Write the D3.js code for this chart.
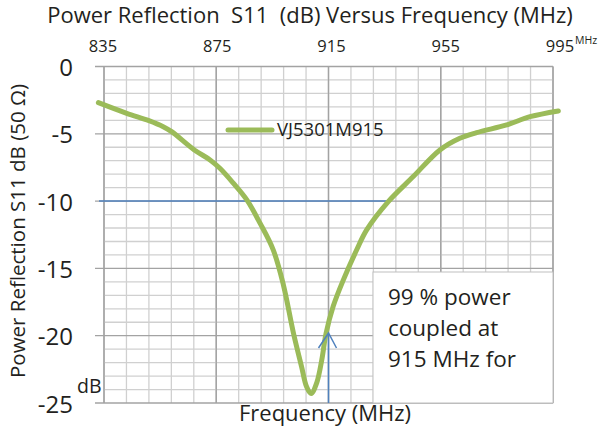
<!DOCTYPE html>
<html>
<head>
<meta charset="utf-8">
<script src="https://cdn.jsdelivr.net/npm/d3@7"></script>
<style>
  body { margin: 0; background: #fff; }
  text { font-family: "Open Sans", "Noto Sans", sans-serif; fill: #231f20; }
</style>
</head>
<body>
<div id="chart"></div>
<script>
// frequency ticks along the top, in MHz
var freqTicks = [835, 875, 915, 955, 995];
var dbTicks = [0, -5, -10, -15, -20, -25];

// S11 curve
var freqs = [833, 843.1, 851, 856.1, 859.1, 867.2, 872.8, 876.3, 881.1, 885.9, 890.6, 895.3,
    898.9, 902.5, 905.4, 907.2, 908.8, 910.8, 912.6, 914.1, 916.7, 920.3, 925.1, 928.6,
    936.3, 945.2, 954.7, 961.8, 967.8, 978.5, 986.8, 996.9];
var s11 = [-2.69, -3.48, -4.02, -4.47, -4.84, -6.2, -6.94, -7.56, -8.67, -9.91, -11.64, -13.62,
    -16.2, -19.8, -22.3, -23.8, -24.3, -23.5, -21.8, -19.86, -17.8, -15.85, -13.6, -12.14,
    -10.04, -8.18, -6.2, -5.33, -4.91, -4.34, -3.73, -3.3];

var seriesName = 'VJ5301M915';
var noteLines = ['99 % power', 'coupled at', '915 MHz for'];

var green = '#9bbb59', blue = '#4f81bd';

var svg = d3.select('#chart')
    .append('svg')
    .attr('width', 603)
    .attr('height', 427);

var x = d3.scaleLinear().domain([835, 995]).range([104, 553]);
var y = d3.scaleLinear().domain([-25, 0]).range([403, 66.5]);
// the top labels sit a little wider apart than the grid
var xLabel = d3.scaleLinear().domain([835, 995]).range([103, 560]);

// minor grid: 8 MHz and 1 dB steps
var grid = svg.append('g');
grid.selectAll('.vminor')
    .data(d3.range(835, 996, 8))
    .enter().append('line')
    .attr('x1', d => x(d)).attr('x2', d => x(d))
    .attr('y1', y(0)).attr('y2', y(-25))
    .attr('stroke', d => (d - 835) % 40 === 0 ? '#a3a3a3' : '#d0d0d0')
    .attr('stroke-width', 1.3);
grid.selectAll('.hminor')
    .data(d3.range(-25, 1, 1))
    .enter().append('line')
    .attr('x1', d => d % 5 === 0 ? x(835) - 9 : x(835)).attr('x2', x(995))
    .attr('y1', d => y(d)).attr('y2', d => y(d))
    .attr('stroke', d => d % 5 === 0 ? '#a3a3a3' : '#d0d0d0')
    .attr('stroke-width', 1.3);
// redraw the major vertical lines on top
grid.selectAll('.vmajor')
    .data(freqTicks)
    .enter().append('line')
    .attr('x1', d => x(d)).attr('x2', d => x(d))
    .attr('y1', y(0)).attr('y2', y(-25))
    .attr('stroke', '#a3a3a3')
    .attr('stroke-width', 1.3);

// -10 dB reference line
svg.append('line')
    .attr('x1', 99).attr('x2', 388)
    .attr('y1', y(-10)).attr('y2', y(-10))
    .attr('stroke', blue)
    .attr('stroke-width', 1.5);

var line = d3.line()
    .x((d, i) => x(freqs[i]))
    .y(d => y(d))
    .curve(d3.curveCatmullRom.alpha(0.5));

svg.append('path')
    .datum(s11)
    .attr('d', line)
    .attr('fill', 'none')
    .attr('stroke', green)
    .attr('stroke-width', 5)
    .attr('stroke-linecap', 'round');

// note box
svg.append('rect')
    .attr('x', 373).attr('y', 272)
    .attr('width', 180).attr('height', 131)
    .attr('fill', '#fff')
    .attr('stroke', '#bfbfbf')
    .attr('stroke-width', 1);
svg.selectAll('.note')
    .data(noteLines)
    .enter().append('text')
    .attr('x', 388)
    .attr('y', (d, i) => 305 + i * 31)
    .style('font-size', '22.5px')
    .text(d => d);

// arrow to 915 MHz
var ax = x(915);
svg.append('line')
    .attr('x1', ax).attr('x2', ax)
    .attr('y1', y(-25)).attr('y2', 334)
    .attr('stroke', blue).attr('stroke-width', 1.5);
svg.append('path')
    .attr('d', 'M' + (ax - 10) + ',348L' + ax + ',333L' + (ax + 8) + ',348')
    .attr('fill', 'none')
    .attr('stroke', blue).attr('stroke-width', 1.5);

// legend
svg.append('line')
    .attr('x1', 228).attr('x2', 272)
    .attr('y1', 130).attr('y2', 130)
    .attr('stroke', green).attr('stroke-width', 5)
    .attr('stroke-linecap', 'round');
svg.append('text')
    .attr('x', 277).attr('y', 136)
    .style('font-size', '18.5px')
    .text(seriesName);

// axis labels
svg.selectAll('.ytick')
    .data(dbTicks)
    .enter().append('text')
    .attr('x', 73)
    .attr('y', d => y(d) + 9.5)
    .attr('text-anchor', 'end')
    .style('font-size', '24px')
    .text(d => d);

svg.selectAll('.xtick')
    .data(freqTicks)
    .enter().append('text')
    .attr('x', d => xLabel(d))
    .attr('y', 52)
    .attr('text-anchor', 'middle')
    .style('font-size', '16.5px')
    .text(d => d);

svg.append('text')
    .attr('x', 575).attr('y', 44)
    .style('font-size', '10.5px')
    .text('MHz');

svg.append('text')
    .attr('x', 310).attr('y', 23)
    .attr('text-anchor', 'middle')
    .style('font-size', '22px')
    .text('Power Reflection\u00a0 S11\u00a0 (dB) Versus Frequency (MHz)');

svg.append('text')
    .attr('x', 77).attr('y', 393)
    .style('font-size', '19.5px')
    .text('dB');

svg.append('text')
    .attr('x', 325).attr('y', 421)
    .attr('text-anchor', 'middle')
    .style('font-size', '22px')
    .text('Frequency (MHz)');

svg.append('text')
    .attr('transform', 'translate(25,231) rotate(-90)')
    .attr('text-anchor', 'middle')
    .style('font-size', '20.5px')
    .text('Power Reflection S11 dB (50 \u03a9)');
</script>
</body>
</html>
